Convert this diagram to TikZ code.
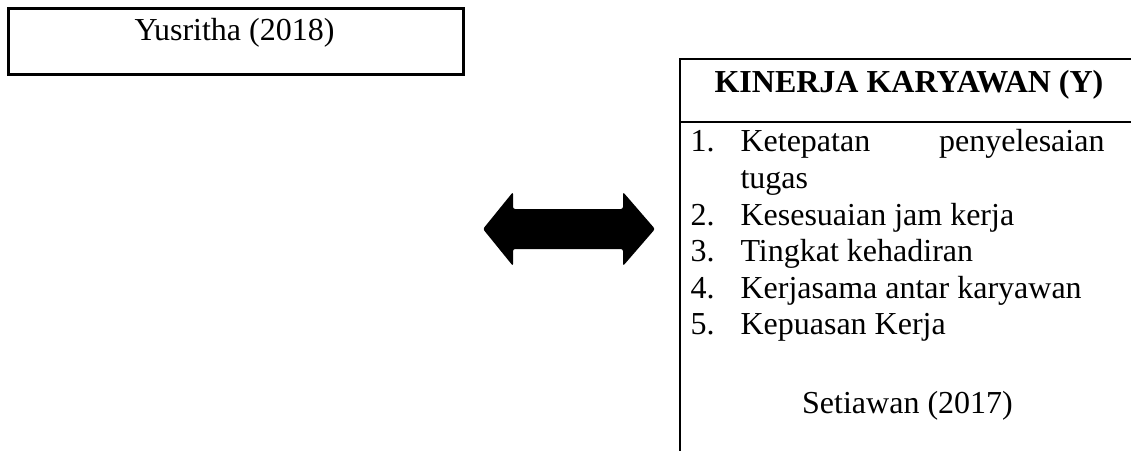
\documentclass[tikz,border=0pt]{standalone}
\usepackage{fontspec}
\setmainfont{Liberation Serif}
\begin{document}
\begin{tikzpicture}[x=0.375pt,y=-0.375pt,
  frame/.style={draw=black,line width=1.1pt},
  txt/.style={inner sep=0pt,font=\fontsize{12pt}{14pt}\selectfont},
  bold/.style={txt,font=\fontsize{12pt}{14pt}\selectfont\bfseries},
  num/.style={txt,anchor=base west},
  item/.style={txt,anchor=base west},
  blockarrow/.style={fill=black,rounded corners=0.8pt}]
\useasboundingbox (0,0) rectangle (1131,450);
\clip (0,0) rectangle (1131,450);

% source box, top left
\node[frame,anchor=north west,minimum width=170.6pt,minimum height=24.75pt,inner sep=0pt] (yus) at (7,7) {};
\node[txt,anchor=base] (yustxt) at (234.5,40) {Yusritha (2018)};

% variable panel, running off the right and bottom edges
\draw[frame] (1160,59) -| (680,480);
\draw[frame] (680,122) -- (1160,122);
\coordinate (panel) at (680,229);

\node[bold,anchor=base] (kin) at (909,92) {KINERJA KARYAWAN (Y)};

\node[num] (n1) at (690,151) {1.};
\node[item] (i1a) at (740,151) {Ketepatan};
\node[txt,anchor=base east] (i1b) at (1105,151) {penyelesaian};
\node[item] (i1c) at (740,188) {tugas};
\node[num] (n2) at (690,225) {2.};
\node[item] (i2) at (740,225) {Kesesuaian jam kerja};
\node[num] (n3) at (690,261.5) {3.};
\node[item] (i3) at (740,261.5) {Tingkat kehadiran};
\node[num] (n4) at (690,298) {4.};
\node[item] (i4) at (740,298) {Kerjasama antar karyawan};
\node[num] (n5) at (690,334.5) {5.};
\node[item] (i5) at (740,334.5) {Kepuasan Kerja};

\node[txt,anchor=base] (set) at (907.5,413) {Setiawan (2017)};

% two-headed block arrow
\fill[blockarrow] (483,229) -- (513,192) -- (513,209) -- (623,209) -- (623,192)
  -- (655,229) -- (623,266) -- (623,249) -- (513,249) -- (513,266) -- cycle;
\end{tikzpicture}
\end{document}
